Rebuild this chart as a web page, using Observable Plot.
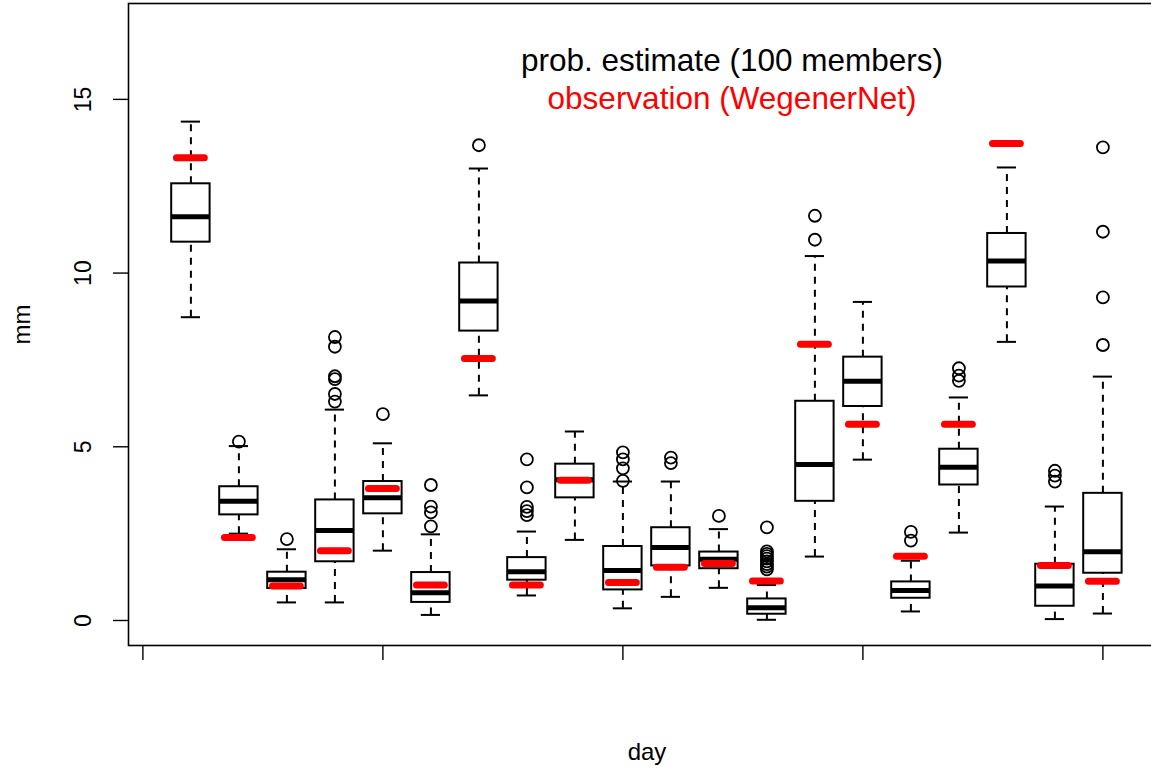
<!DOCTYPE html>
<html><head><meta charset="utf-8">
<script src="https://cdn.jsdelivr.net/npm/d3@7"></script>
<script src="https://cdn.jsdelivr.net/npm/@observablehq/plot@0.6"></script>
<style>html,body{margin:0;padding:0;background:#fff} #chart svg{display:block}</style>
</head><body><div id="chart"></div>
<script>
// ---- data ----
const days = [1,2,3,4,5,6,7,8,9,10,11,12,13,14,15,16,17,18,19,20];
const lowerWhisker = [8.73,2.50,0.52,0.52,2.01,0.16,6.48,0.72,2.32,0.35,0.68,0.94,0.02,1.84,4.63,0.26,2.53,8.02,0.04,0.20];
const q1          = [10.89,3.04,0.92,1.69,3.07,0.52,8.33,1.16,3.53,0.88,1.57,1.49,0.18,3.43,6.16,0.64,3.90,9.60,0.41,1.36];
const median      = [11.62,3.43,1.17,2.59,3.53,0.80,9.20,1.40,4.05,1.44,2.10,1.76,0.37,4.49,6.89,0.86,4.41,10.35,0.99,1.98];
const q3          = [12.57,3.85,1.39,3.47,4.00,1.38,10.29,1.81,4.50,2.13,2.67,1.97,0.62,6.31,7.58,1.11,4.93,11.14,1.62,3.66];
const upperWhisker= [14.36,5.02,2.05,6.07,5.10,2.48,13.01,2.56,5.44,4.00,4.00,2.63,1.02,10.49,9.17,1.72,6.42,13.04,3.28,7.02];
const observation = [13.32,2.39,0.99,2.01,3.80,1.02,7.54,1.02,4.04,1.09,1.53,1.64,1.14,7.95,5.65,1.85,5.65,13.73,1.58,1.13];
const outliers = [
  [],
  [5.15],
  [2.34],
  [8.16,7.88,7.03,6.95,6.52,6.30],
  [5.94],
  [3.90,3.28,3.11,2.71],
  [13.68],
  [4.64,3.83,3.27,3.15,3.03],
  [],
  [4.84,4.64,4.38,4.02],
  [4.69,4.53],
  [3.01],
  [2.68,1.99,1.92,1.85,1.78,1.70,1.62,1.55,1.47],
  [11.65,10.96],
  [],
  [2.55,2.30],
  [7.26,7.05,6.90],
  [],
  [4.31,4.17,4.00],
  [13.62,11.19,9.30,7.93]
];
const yTicks = [0,5,10,15];
const xTicks = [0,5,10,15,20];
const legendLabels = ["prob. estimate (100 members)", "observation (WegenerNet)"];
const legendColors = ["black", "red"];
const xLabel = "day";
const yLabel = "mm";

// ---- build tables ----
const rows = days.map((day, i) => ({
  day, lo: lowerWhisker[i], q1: q1[i], med: median[i], q3: q3[i], hi: upperWhisker[i], obs: observation[i]
}));
const outlierRows = days.flatMap((day, i) => outliers[i].map(v => ({day, v})));

const boxHalf = 0.4, capHalf = 0.2, obsHalf = 0.29;
const font = "'Liberation Sans', Arial, Helvetica, sans-serif";

const chart = Plot.plot({
  width: 1151,
  height: 771,
  marginLeft: 128,
  marginRight: -2,
  marginTop: 3,
  marginBottom: 126,
  x: {domain: [-0.3, 21.054], axis: null},
  y: {domain: [-0.72, 17.76], axis: null},
  style: {fontFamily: font, background: "white", color: "black"},
  marks: [
    Plot.frame({stroke: "black", strokeWidth: 1.6}),
    Plot.axisY({ticks: yTicks, tickSize: 15, tickRotate: -90, tickPadding: 23, fontSize: 23,
                tickFormat: d => String(d), label: null, strokeWidth: 1.4}),
    Plot.axisX({ticks: xTicks, tickSize: 15, tickFormat: () => "", label: null, strokeWidth: 1.4}),
    // whiskers
    Plot.ruleX(rows, {x: "day", y1: "q3", y2: "hi", stroke: "black", strokeWidth: 2, strokeDasharray: "7,6"}),
    Plot.ruleX(rows, {x: "day", y1: "lo", y2: "q1", stroke: "black", strokeWidth: 2, strokeDasharray: "7,6"}),
    // caps
    Plot.ruleY(rows, {y: "hi", x1: d => d.day - capHalf, x2: d => d.day + capHalf, stroke: "black", strokeWidth: 2}),
    Plot.ruleY(rows, {y: "lo", x1: d => d.day - capHalf, x2: d => d.day + capHalf, stroke: "black", strokeWidth: 2}),
    // boxes
    Plot.rect(rows, {x1: d => d.day - boxHalf, x2: d => d.day + boxHalf, y1: "q1", y2: "q3",
                     fill: "white", stroke: "black", strokeWidth: 2}),
    // medians
    Plot.ruleY(rows, {y: "med", x1: d => d.day - boxHalf, x2: d => d.day + boxHalf, stroke: "black", strokeWidth: 5}),
    // outliers
    Plot.dot(outlierRows, {x: "day", y: "v", r: 6, stroke: "black", strokeWidth: 1.8, fill: "none"}),
    // observations
    Plot.ruleY(rows, {y: "obs", x1: d => d.day - obsHalf, x2: d => d.day + obsHalf, stroke: "red",
                      strokeWidth: 7, strokeLinecap: "round"}),
    // legend text
    Plot.text([legendLabels[0]], {frameAnchor: "top", lineAnchor: "middle", dx: 91, dy: 57,
                                  fill: legendColors[0], fontSize: 31.5}),
    Plot.text([legendLabels[1]], {frameAnchor: "top", lineAnchor: "middle", dx: 91, dy: 95,
                                  fill: legendColors[1], fontSize: 31.5}),
    // axis titles
    Plot.text([xLabel], {frameAnchor: "bottom", lineAnchor: "middle", dx: 6, dy: 107, fontSize: 24}),
    Plot.text([yLabel], {frameAnchor: "left", textAnchor: "middle", lineAnchor: "middle",
                         dx: -106, rotate: -90, fontSize: 24})
  ]
});
document.getElementById("chart").appendChild(chart);
</script>
</body></html>
